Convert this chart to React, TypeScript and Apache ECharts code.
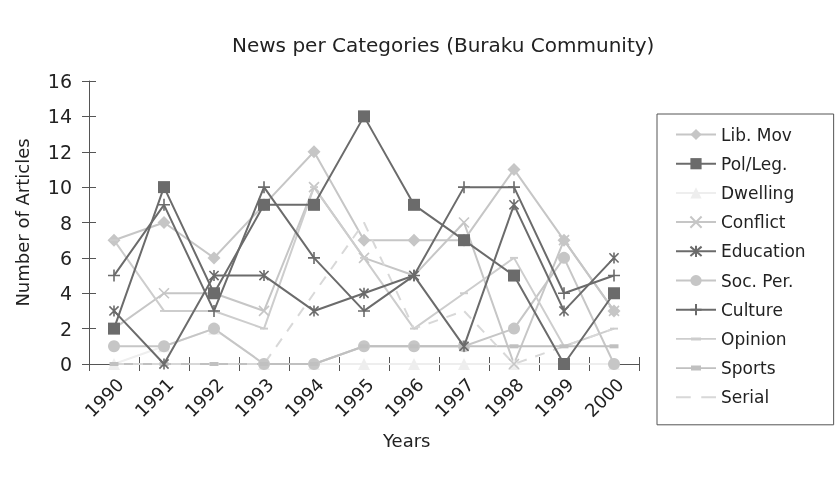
import React, { useEffect, useRef } from "react";
import * as echarts from "echarts";

const years = ["1990", "1991", "1992", "1993", "1994", "1995", "1996", "1997", "1998", "1999", "2000"];
const libMov = [7, 8, 6, 9, 12, 7, 7, 7, 11, 7, 3];
const polLeg = [2, 10, 4, 9, 9, 14, 9, 7, 5, 0, 4];
const dwelling = [0, 1, 2, 0, 0, 0, 0, 0, 0, 0, 0];
const conflict = [2, 4, 4, 3, 10, 6, 5, 8, 0, 7, 3];
const education = [3, 0, 5, 5, 3, 4, 5, 1, 9, 3, 6];
const socPer = [1, 1, 2, 0, 0, 1, 1, 1, 2, 6, 0];
const culture = [5, 9, 3, 10, 6, 3, 5, 10, 10, 4, 5];
const opinion = [7, 3, 3, 2, 10, 6, 2, 4, 6, 1, 2];
const sports = [0, 0, 0, 0, 0, 1, 1, 1, 1, 1, 1];
const serial = [0, 0, 0, 0, 4, 8, 2, 3, 0, 1, 2];
const yTicks = [0, 16, 2];

const DARK = "#6b6b6b";
const LIGHT = "#c6c6c6";
const FONT = "'DejaVu Sans', 'Noto Sans', sans-serif";

const X_SYM = "path://M0,0L10,10M10,0L0,10";
const AST_SYM = "path://M0,0L10,10M10,0L0,10M5,-1L5,11";
const PLUS_SYM = "path://M5,0L5,10M0,5L10,5";
const DASH_SYM = "path://M0,0L10,0L10,2.4L0,2.4Z";
const SPORT_SYM = "path://M0,0L10,0L10,4.5L0,4.5Z";
const SERIAL_ICON = "path://M0,0L14,0L14,1.8L0,1.8ZM24,0L38,0L38,1.8L24,1.8Z";
const OPINION_ICON =
  "path://M0,0.6L15,0.6L15,0L25,0L25,0.6L40,0.6L40,2.4L25,2.4L25,3L15,3L15,2.4L0,2.4Z";
const SPORTS_ICON =
  "path://M0,1.6L15,1.6L15,0L25,0L25,1.6L40,1.6L40,3.4L25,3.4L25,5L15,5L15,3.4L0,3.4Z";

export default function App() {
  const ref = useRef<HTMLDivElement>(null);
  useEffect(() => {
    if (!ref.current) return;
    const chart = echarts.init(ref.current, undefined, { renderer: "svg" });
    const mk = (name: string, data: number[], color: string, symbol: string, size: number, opts: any = {}) => ({
      name,
      type: "line",
      data,
      symbol,
      symbolSize: size,
      symbolKeepAspect: true,
      lineStyle: { color, width: 2, type: opts.dashed ? [10, 9] : "solid" },
      itemStyle: opts.stroke
        ? { color: "none", borderColor: color, borderWidth: 1.6 }
        : { color, borderColor: color, borderWidth: 0 },
      emphasis: { disabled: true },
      z: opts.z ?? 2,
    });
    chart.setOption({
      animation: false,
      grid: { left: 89, right: 196, top: 81, bottom: 114, containLabel: false },
      graphic: [
        {
          type: "text",
          left: 232,
          top: 35,
          style: { text: "News per Categories (Buraku Community)", font: `20px ${FONT}`, fill: "#222" },
        },
        {
          type: "text",
          left: 383,
          top: 431,
          style: { text: "Years", font: `18px ${FONT}`, fill: "#222" },
        },
      ],
      legend: {
        orient: "vertical",
        left: 657,
        top: 114,
        itemWidth: 40,
        itemHeight: 14,
        itemGap: 12.2,
        padding: [12, 28, 19, 18],
        borderColor: "#555",
        borderWidth: 1,
        textStyle: { fontSize: 17, fontFamily: FONT, color: "#222" },
        data: [
          "Lib. Mov", "Pol/Leg.", "Dwelling", "Conflict", "Education", "Soc. Per.", "Culture",
          { name: "Opinion", icon: OPINION_ICON, itemStyle: { color: "#cdcdcd" } },
          { name: "Sports", icon: SPORTS_ICON, itemStyle: { color: "#c0c0c0" } },
          { name: "Serial", icon: SERIAL_ICON, itemStyle: { color: "#d8d8d8" } },
        ],
      },
      xAxis: [
        {
          type: "category",
          data: years,
          boundaryGap: true,
          axisLine: { lineStyle: { color: "#555", width: 1 } },
          axisTick: { show: true, length: 7, lineStyle: { color: "#555" } },
          axisLabel: { rotate: 45, fontSize: 18, fontFamily: FONT, color: "#222", margin: 11, verticalAlign: "top" },
        },
        {
          type: "category",
          data: years,
          position: "bottom",
          boundaryGap: true,
          axisLine: { show: false },
          axisTick: { show: true, inside: true, length: 7, lineStyle: { color: "#555" } },
          axisLabel: { show: false },
        },
      ],
      yAxis: [
        {
          type: "value",
          min: yTicks[0],
          max: yTicks[1],
          interval: yTicks[2],
          name: "Number of Articles",
          nameLocation: "middle",
          nameGap: 58,
          nameTextStyle: { fontSize: 18, fontFamily: FONT, color: "#222" },
          splitLine: { show: false },
          axisLine: { show: true, lineStyle: { color: "#555", width: 1 } },
          axisTick: { show: true, length: 7, lineStyle: { color: "#555" } },
          axisLabel: { fontSize: 19, fontFamily: FONT, color: "#222", margin: 17 },
        },
        {
          type: "value",
          min: yTicks[0],
          max: yTicks[1],
          interval: yTicks[2],
          position: "left",
          splitLine: { show: false },
          axisLine: { show: false },
          axisTick: { show: true, inside: true, length: 7, lineStyle: { color: "#555" } },
          axisLabel: { show: false },
        },
      ],
      series: [
        mk("Lib. Mov", libMov, LIGHT, "diamond", 13),
        mk("Pol/Leg.", polLeg, DARK, "rect", 12, { z: 4 }),
        mk("Dwelling", dwelling, "#eeeeee", "triangle", 12),
        mk("Conflict", conflict, LIGHT, X_SYM, 10, { stroke: true }),
        mk("Education", education, DARK, AST_SYM, 11, { stroke: true, z: 4 }),
        mk("Soc. Per.", socPer, LIGHT, "circle", 12),
        mk("Culture", culture, DARK, PLUS_SYM, 12, { stroke: true, z: 4 }),
        mk("Opinion", opinion, "#cdcdcd", DASH_SYM, 8),
        mk("Sports", sports, "#c0c0c0", SPORT_SYM, 9),
        mk("Serial", serial, "#d8d8d8", "none", 0, { dashed: true }),
      ],
    });
    return () => chart.dispose();
  }, []);
  return <div ref={ref} style={{ position: "fixed", left: 0, top: 0, width: 835, height: 478 }} />;
}
